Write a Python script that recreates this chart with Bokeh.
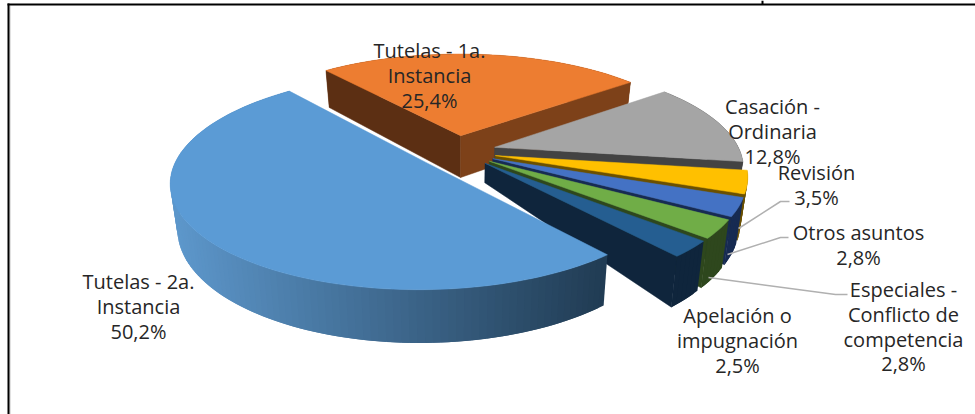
import math
from bokeh.plotting import figure
from bokeh.embed import file_html
from bokeh.resources import INLINE
from bokeh.core.properties import value

categories = ["Tutelas - 1a. Instancia", "Casación - Ordinaria", "Revisión", "Otros asuntos",
              "Especiales - Conflicto de competencia", "Apelación o impugnación", "Tutelas - 2a. Instancia"]
shares = [25.4, 12.8, 3.5, 2.8, 2.8, 2.5, 50.2]
share_labels = ["25,4%", "12,8%", "3,5%", "2,8%", "2,8%", "2,5%", "50,2%"]
label_lines = [["Tutelas - 1a.", "Instancia"], ["Casación -", "Ordinaria"], ["Revisión"], ["Otros asuntos"],
               ["Especiales -", "Conflicto de", "competencia"], ["Apelación o", "impugnación"], ["Tutelas - 2a.", "Instancia"]]
top_colors = ["#ed7d31", "#a5a5a5", "#ffc000", "#4472c4", "#70ad47", "#255e91", "#5b9bd5"]
wall_colors = ["#7d4119", "#434343", "#6b5000", "#172b52", "#2e471d", "#0f253c", "#5389b9"]

# label anchors (centre x, first line centre y)
label_x = [429, 772, 816, 858, 903, 737, 138]
label_y = [50, 106, 172, 232, 289, 315, 281]
LINE = 24.8

CX, CY, R, A, P, EXPL = 456.0, 151.0, 245.5, 101.0, 0.175, 0.162
DEPTH, SHRINK, START = 43.0, 0.975, 129.5


def project(u, v):
    w = 1 + P * v
    return CX + R * u / w, CY - A * v / w, w


def bottom(x, y, w, frac=1.0):
    return CX + (x - CX) * (1 - (1 - SHRINK) * frac), y + DEPTH * frac / w


def mix(a, b, t):
    ca = [int(a[i:i + 2], 16) for i in (1, 3, 5)]
    cb = [int(b[i:i + 2], 16) for i in (1, 3, 5)]
    return "#%02x%02x%02x" % tuple(round(x + (y - x) * t) for x, y in zip(ca, cb))


p = figure(width=975, height=414, x_range=(0, 975), y_range=(414, 0), output_backend="svg",
           toolbar_location=None, min_border=0, outline_line_color=None)
p.axis.visible = False
p.grid.visible = False
p.background_fill_color = "#ffffff"

angle = START
spans = []
for s in shares:
    spans.append((angle, angle - s * 3.6))
    angle -= s * 3.6

for i in range(len(shares)):
    a0, a1 = spans[i]
    mid = math.radians((a0 + a1) / 2)
    ou, ov = EXPL * math.cos(mid), EXPL * math.sin(mid)
    n = max(6, int((a0 - a1) / 1.5))
    rim = []
    for k in range(n + 1):
        t = math.radians(a0 + (a1 - a0) * k / n)
        rim.append(project(ou + math.cos(t), ov + math.sin(t)))
    apex = project(ou, ov)
    # rim wall as overlapping strips, painted so that each one covers the seam of the last
    for k in range(n):
        x0, y0, w0 = rim[k]
        x1, y1, w1 = rim[min(n, k + 2)]
        bx0, by0 = bottom(x0, y0, w0)
        bx1, by1 = bottom(x1, y1, w1)
        col = wall_colors[i]
        if i == 6:
            col = mix("#5d97cb", "#213c54", min(1, max(0, (x0 - 175) / 430)))
        p.patch([x0, x1, bx1, bx0], [y0, y1, by1, by0], fill_color=col, line_color=None)
    if i != 6:
        frac = 1.0 if i == 0 else 0.44
        ax, ay = bottom(apex[0], apex[1], apex[2], frac)
        if i == 0:
            sx, sy, sw = rim[0]
            bx, by = bottom(sx, sy, sw)
            p.patch([apex[0], sx, bx, ax], [apex[1], sy, by, ay],
                    fill_color="#5c2f13", line_color="#5c2f13", line_width=0.5)
        ex, ey, ew = rim[-1]
        bx, by = bottom(ex, ey, ew)
        p.patch([apex[0], ex, bx, ax], [apex[1], ey, by, ay],
                fill_color=wall_colors[i], line_color=wall_colors[i], line_width=0.5)
    xs = [apex[0]] + [r[0] for r in rim]
    ys = [apex[1]] + [r[1] for r in rim]
    p.patch(xs, ys, fill_color=top_colors[i], line_color=top_colors[i], line_width=0.5)

# leader lines
leaders = [([738, 780, 789], [228, 201, 201]), ([727, 780, 788], [254, 237, 237]),
           ([708, 835, 847], [277, 294, 294])]
for lx, ly in leaders:
    p.line(lx, ly, line_color="#b0b0b0", line_width=1.5)

# chart frame
p.line([9.5, 9.5], [5, 414], line_color="#c4c4c4", line_width=1)
p.line([8, 8], [3, 414], line_color="#000000", line_width=2)
p.line([7, 975], [4, 4], line_color="#000000", line_width=2)
p.line([762, 762], [0, 4], line_color="#000000", line_width=2)

# labels
for i in range(len(categories)):
    lines = label_lines[i] + [share_labels[i]]
    for j, t in enumerate(lines):
        p.text([label_x[i]], [label_y[i] + j * LINE], text=[t], text_align="center", text_baseline="middle",
               text_font=value("Open Sans"), text_font_size="20px", text_color="#262626")

open("out.html", "w").write(file_html(p, INLINE))
